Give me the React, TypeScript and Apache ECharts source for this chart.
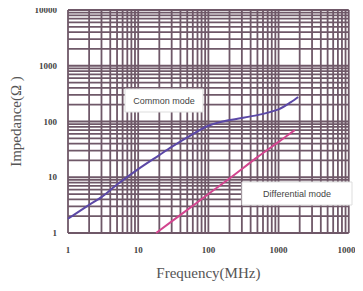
import React, { useEffect, useRef } from "react";
import * as echarts from "echarts";

const xTickLabels = ["1", "10", "100", "1000", "10000"];
const yTickLabels = ["1", "10", "100", "1000", "10000"];

const freqCommon = [1, 2, 3, 5, 10, 20, 30, 50, 100, 200, 500, 1000, 1500, 1900];
const impCommon = [1.8, 3.2, 4.4, 7.4, 14, 25, 35, 52, 84, 106, 130, 165, 222, 275];

const freqDiff = [18, 50, 100, 200, 500, 1000, 1700];
const impDiff = [1, 2.6, 5, 9.5, 23, 43, 70];

const gridMultipliers = [1, 2, 3, 4, 5, 6, 7, 8, 9];
const decades = [1, 10, 100, 1000];

const gridValues: number[] = [];
decades.forEach((d) => gridMultipliers.forEach((m) => gridValues.push(m * d)));
gridValues.push(10000);

const GRID_COLOR = "#6f5868";

export default function App() {
  const ref = useRef<HTMLDivElement>(null);
  useEffect(() => {
    if (!ref.current) return;
    const chart = echarts.init(ref.current, null, { renderer: "svg" });
    const fmt = (labels: string[]) => (v: number) => {
      const i = Math.round(Math.log10(v));
      return labels[i] ?? "";
    };
    chart.setOption({
      animation: false,
      grid: { left: 63, right: 13, top: 10, bottom: 58, containLabel: false },
      xAxis: {
        type: "log",
        logBase: 10,
        min: 1,
        max: 10000,
        name: "Frequency(MHz)",
        nameLocation: "middle",
        nameGap: 32,
        nameTextStyle: { fontFamily: "Liberation Serif", fontSize: 15, color: "#555" },
        axisLine: { show: false },
        axisTick: { show: false },
        splitLine: { show: false },
        axisLabel: {
          formatter: fmt(xTickLabels),
          fontFamily: "Liberation Serif",
          fontSize: 9,
          fontWeight: "bold",
          color: "#444",
          margin: 12,
        },
      },
      yAxis: {
        type: "log",
        logBase: 10,
        min: 1,
        max: 10000,
        name: "Impedance(Ω )",
        nameLocation: "middle",
        nameGap: 45,
        nameTextStyle: { fontFamily: "Liberation Serif", fontSize: 15, color: "#555" },
        axisLine: { show: false },
        axisTick: { show: false },
        splitLine: { show: false },
        axisLabel: {
          formatter: fmt(yTickLabels),
          fontFamily: "Liberation Serif",
          fontSize: 9,
          fontWeight: "bold",
          color: "#444",
          margin: 11,
        },
      },
      series: [
        {
          type: "custom",
          silent: true,
          z: 1,
          encode: { x: 0, y: 1 },
          data: gridValues.map((v) => [v, 1]),
          renderItem: (params: any, api: any) => {
            const cs = params.coordSys;
            const x = api.coord([api.value(0), 1])[0];
            return {
              type: "line",
              shape: { x1: x, y1: cs.y, x2: x, y2: cs.y + cs.height },
              style: { stroke: GRID_COLOR, lineWidth: 1.8 },
            };
          },
        },
        {
          type: "custom",
          silent: true,
          z: 1,
          encode: { x: 0, y: 1 },
          data: gridValues.map((v) => [1, v]),
          renderItem: (params: any, api: any) => {
            const cs = params.coordSys;
            const y = api.coord([1, api.value(1)])[1];
            return {
              type: "line",
              shape: { x1: cs.x, y1: y, x2: cs.x + cs.width, y2: y },
              style: { stroke: GRID_COLOR, lineWidth: 1.8 },
            };
          },
        },
        {
          type: "line",
          name: "Common mode",
          z: 3,
          symbol: "none",
          smooth: 0.3,
          data: freqCommon.map((f, i) => [f, impCommon[i]]),
          lineStyle: { color: "#5b48a6", width: 2 },
        },
        {
          type: "line",
          name: "Differential mode",
          z: 3,
          symbol: "none",
          smooth: 0.2,
          data: freqDiff.map((f, i) => [f, impDiff[i]]),
          lineStyle: { color: "#d2458f", width: 2 },
        },
      ],
      graphic: [
        {
          type: "rect",
          z: 100,
          shape: { x: 125, y: 89, width: 78, height: 23 },
          style: { fill: "#fff", stroke: "#ddd", lineWidth: 1 },
        },
        {
          type: "text",
          z: 101,
          x: 164,
          y: 100.5,
          style: {
            text: "Common mode",
            font: "9px 'Liberation Sans'",
            fill: "#444",
            align: "center",
            verticalAlign: "middle",
          },
        },
        {
          type: "rect",
          z: 100,
          shape: { x: 242, y: 182, width: 110, height: 23 },
          style: { fill: "#fff", stroke: "#ddd", lineWidth: 1 },
        },
        {
          type: "text",
          z: 101,
          x: 297,
          y: 193.5,
          style: {
            text: "Differential mode",
            font: "9px 'Liberation Sans'",
            fill: "#444",
            align: "center",
            verticalAlign: "middle",
          },
        },
      ],
    });
    return () => chart.dispose();
  }, []);
  return <div ref={ref} style={{ width: 363, height: 291, margin: -8 }} />;
}
